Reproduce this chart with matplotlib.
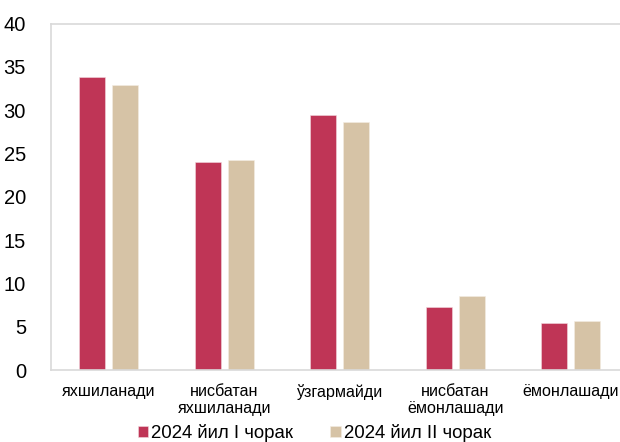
import matplotlib
matplotlib.use("Agg")
import matplotlib.pyplot as plt
import numpy as np

categories = ["яхшиланади", "нисбатан\nяхшиланади", "ўзгармайди", "нисбатан\nёмонлашади", "ёмонлашади"]
series_names = ["2024 йил I чорак", "2024 йил II чорак"]
q1 = [33.8, 24.05, 29.4, 7.3, 5.4]
q2 = [32.9, 24.3, 28.6, 8.55, 5.65]
yticks = [0, 5, 10, 15, 20, 25, 30, 35, 40]

colors = ["#BF3556", "#D6C3A6"]

plt.rcParams['font.family'] = ['Liberation Sans', 'DejaVu Sans']

fig = plt.figure(figsize=(6.2, 4.42), dpi=100)
ax = fig.add_axes([51/620, 1-370/442, 577.5/620, (370-23.5)/442])

x = np.arange(len(categories))
w = 0.228
off = 0.143
ax.bar(x - off, q1, w, color=colors[0], label=series_names[0], edgecolor="#F3D9DF", linewidth=0.4)
ax.bar(x + off, q2, w, color=colors[1], label=series_names[1], edgecolor="#F3EDE3", linewidth=0.4)

ax.set_xlim(-0.5, len(categories) - 0.5)
ax.set_ylim(0, 40)
ax.set_yticks(yticks)
ax.set_yticklabels([str(v) for v in yticks], fontsize=14.5)
ax.set_xticks(x)
ax.set_xticklabels(categories, fontsize=11.6, linespacing=1.2)
ax.tick_params(axis='y', length=0, pad=18)
ax.tick_params(axis='x', length=0, pad=10)

for s in ['left', 'bottom', 'top']:
    ax.spines[s].set_color("#D9D9D9")
    ax.spines[s].set_linewidth(1.2)
ax.spines['right'].set_visible(False)

leg = fig.legend(loc='center', bbox_to_anchor=(314.5/620, 1-433/442), ncol=2, frameon=False,
                 fontsize=13.4, handlelength=0.55, handleheight=0.55, handletextpad=0.15,
                 columnspacing=2.0, borderaxespad=0)

fig.savefig("out.png", dpi=100)
